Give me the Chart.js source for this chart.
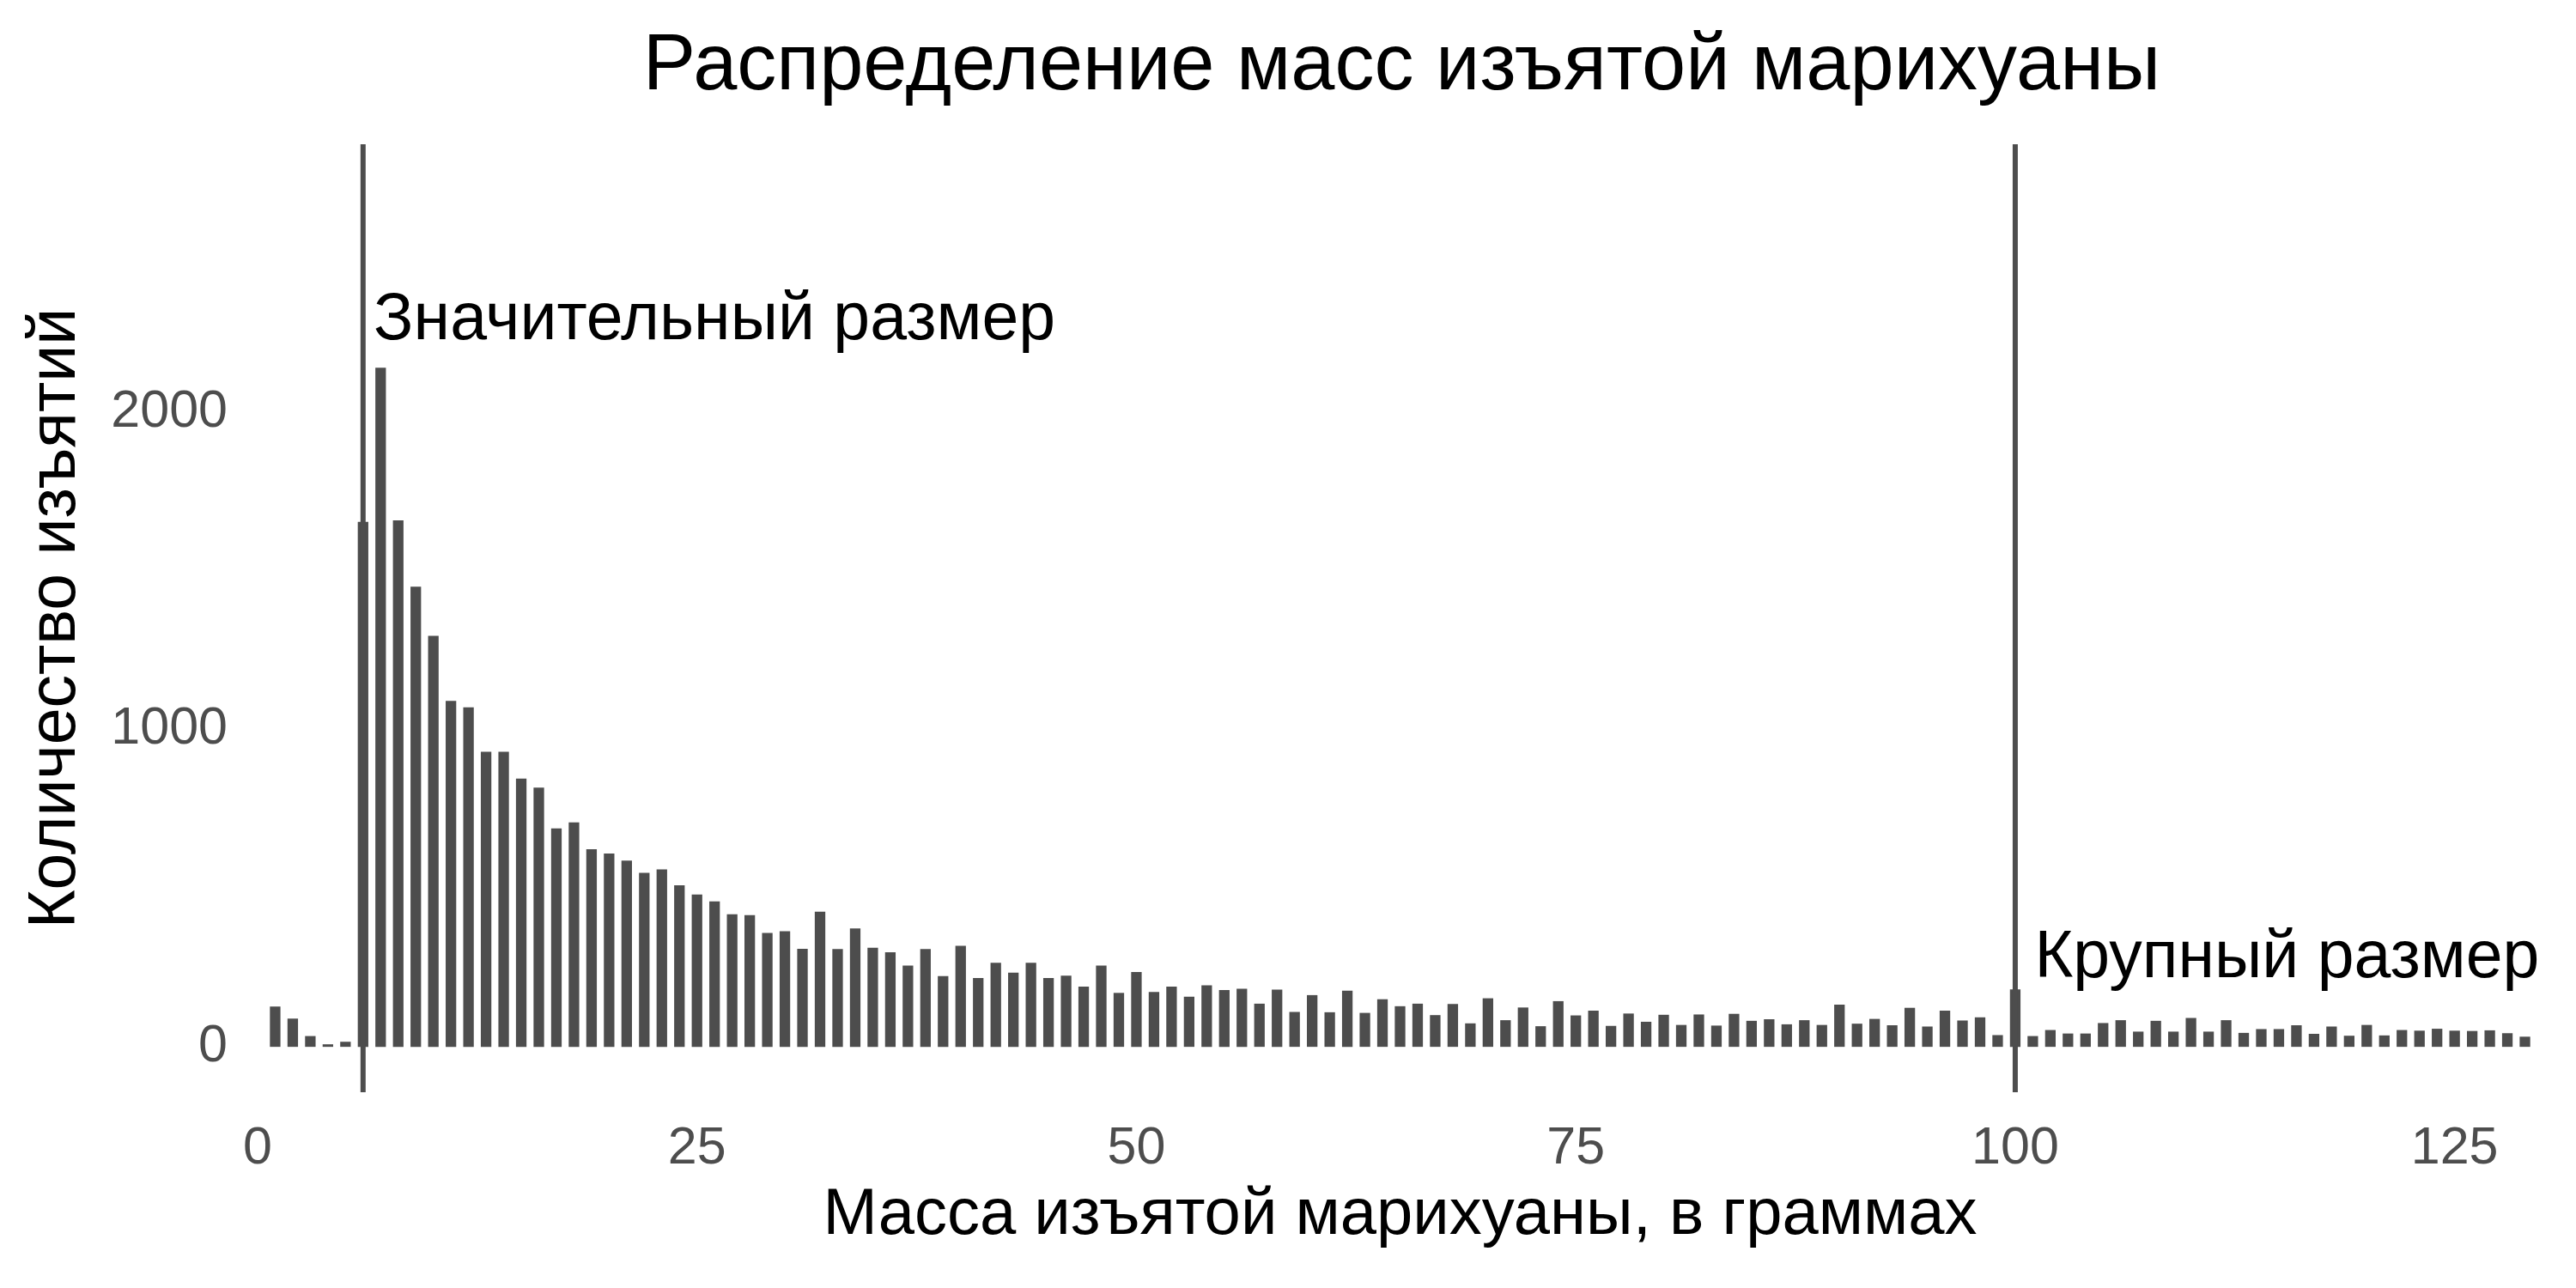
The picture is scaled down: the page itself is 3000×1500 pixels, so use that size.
<!DOCTYPE html>
<html>
<head>
<meta charset="utf-8">
<script src="https://cdn.jsdelivr.net/npm/chart.js@4.4.1/dist/chart.umd.min.js"></script>
<style>
  html, body { margin: 0; padding: 0; background: #ffffff; }
  #wrap { width: 3000px; height: 1500px; }
</style>
</head>
<body>
<div id="wrap"><canvas id="c" width="3000" height="1500"></canvas></div>
<script>
// ---- Data ----
const masses = [1,2,3,4,5,6,7,8,9,10,11,12,13,14,15,16,17,18,19,20,
  21,22,23,24,25,26,27,28,29,30,31,32,33,34,35,36,37,38,39,40,
  41,42,43,44,45,46,47,48,49,50,51,52,53,54,55,56,57,58,59,60,
  61,62,63,64,65,66,67,68,69,70,71,72,73,74,75,76,77,78,79,80,
  81,82,83,84,85,86,87,88,89,90,91,92,93,94,95,96,97,98,99,100,
  101,102,103,104,105,106,107,108,109,110,111,112,113,114,115,116,117,118,119,120,
  121,122,123,124,125,126,127,128,129];
const counts = [127,89,34,8,16,1654,2140,1659,1450,1295,1090,1070,930,930,845,817,688,707,623,609,
  587,548,559,509,480,458,418,415,359,364,309,426,308,373,312,298,256,308,223,318,
  217,265,234,265,217,224,190,256,170,236,173,190,158,194,179,183,136,180,110,163,
  109,177,107,150,128,136,100,135,74,153,84,124,65,144,99,114,66,105,79,101,
  69,102,67,104,82,87,71,84,69,133,73,88,68,123,64,114,83,93,37,181,
  34,53,42,42,75,84,48,82,48,91,48,84,44,56,56,68,41,64,35,69,
  36,53,51,57,51,50,52,43,32];
const xTickValues = [0, 25, 50, 75, 100, 125];
const yTickValues = [0, 1000, 2000];
const thresholdMasses = [6, 100];
const annotationTexts = ['Значительный размер', 'Крупный размер'];
const annotationX = [6.6, 101.1];
const annotationY = [2230, 219];
const chartTitle = 'Распределение масс изъятой марихуаны';
const xAxisTitle = 'Масса изъятой марихуаны, в граммах';
const yAxisTitle = 'Количество изъятий';

// ---- Styles ----
const FONT = '"Liberation Sans", Arial, Helvetica, sans-serif';
const BAR_COLOR = '#4d4d4d';
const TICK_COLOR = '#4d4d4d';

const points = masses.map((m, i) => ({ x: m, y: counts[i] }));

const thresholdLines = {
  id: 'thresholdLines',
  afterDatasetsDraw(chart) {
    const { ctx, chartArea, scales } = chart;
    ctx.save();
    ctx.strokeStyle = BAR_COLOR;
    ctx.lineWidth = 6;
    thresholdMasses.forEach(v => {
      const px = scales.x.getPixelForValue(v);
      ctx.beginPath();
      ctx.moveTo(px, chartArea.top);
      ctx.lineTo(px, chartArea.bottom);
      ctx.stroke();
    });
    ctx.restore();
  }
};

const textLayer = {
  id: 'textLayer',
  afterDraw(chart) {
    const { ctx, chartArea, scales } = chart;
    ctx.save();
    ctx.fillStyle = '#000000';
    ctx.textBaseline = 'alphabetic';
    ctx.font = '77px ' + FONT;
    ctx.textAlign = 'left';
    annotationTexts.forEach((t, i) => {
      ctx.fillText(t, scales.x.getPixelForValue(annotationX[i]), scales.y.getPixelForValue(annotationY[i]));
    });
    ctx.font = '92px ' + FONT;
    ctx.textAlign = 'center';
    ctx.fillText(chartTitle, (chartArea.left + chartArea.right) / 2 + 2, 104);
    ctx.restore();
  }
};

new Chart(document.getElementById('c'), {
  type: 'bar',
  data: {
    datasets: [{
      data: points,
      backgroundColor: BAR_COLOR,
      borderWidth: 0,
      barPercentage: 0.6,
      categoryPercentage: 1.0
    }]
  },
  options: {
    responsive: false,
    animation: false,
    devicePixelRatio: 1,
    layout: { padding: { top: 168, right: 39, bottom: 0, left: 0 } },
    plugins: {
      legend: { display: false },
      title: { display: false },
      tooltip: { enabled: false }
    },
    scales: {
      x: {
        type: 'linear',
        offset: false,
        min: 0,
        max: 130,
        grid: { display: false, drawTicks: false, offset: false },
        border: { display: false },
        afterFit(s) { s.height = 228; },
        afterBuildTicks(s) { s.ticks = xTickValues.map(v => ({ value: v })); },
        ticks: {
          color: TICK_COLOR,
          padding: 30,
          maxRotation: 0,
          font: { family: FONT, size: 61 },
          callback: v => String(v)
        },
        title: {
          display: true,
          text: xAxisTitle,
          color: '#000000',
          font: { family: FONT, size: 76, lineHeight: 1.2 },
          padding: { top: 0, bottom: 38 }
        }
      },
      y: {
        type: 'linear',
        min: -143,
        max: 2844,
        grid: { display: false, drawTicks: false },
        border: { display: false },
        afterFit(s) { s.width = 300; },
        afterBuildTicks(s) { s.ticks = yTickValues.map(v => ({ value: v })); },
        ticks: {
          color: TICK_COLOR,
          padding: 35,
          font: { family: FONT, size: 61 },
          callback: v => String(v)
        },
        title: {
          display: true,
          text: yAxisTitle,
          color: '#000000',
          font: { family: FONT, size: 77, lineHeight: 1.2 },
          padding: { top: 20, bottom: 0 }
        }
      }
    }
  },
  plugins: [thresholdLines, textLayer]
});
</script>
</body>
</html>
